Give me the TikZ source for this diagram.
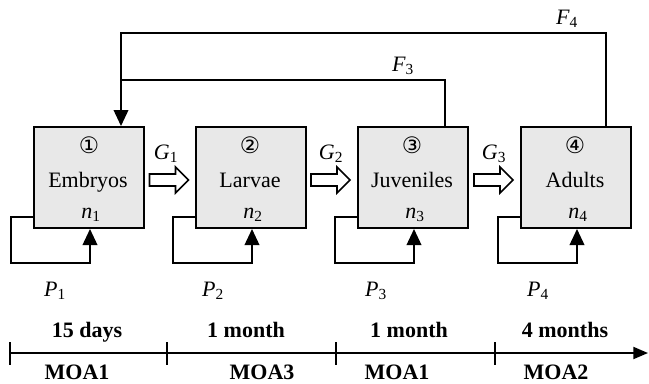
\documentclass[tikz,border=0pt]{standalone}
\usepackage{fontspec}
\setmainfont{Liberation Serif}
\newfontfamily\circfont{DejaVu Sans}
\usetikzlibrary{arrows.meta,calc}
\begin{document}
\begin{tikzpicture}[x=0.75pt,y=-0.75pt,
  font=\fontsize{16.5}{19}\selectfont,
  stagebox/.style={draw, line width=1.5pt, fill=gray!18, minimum width=82.5pt, minimum height=75.75pt, inner sep=0pt, anchor=north west},
  conn/.style={line width=1.2pt},
  tri/.style={-{Triangle[width=11pt,length=12pt]}},
  hollowarr/.style={line width=1.2pt, fill=white, line join=miter},
  circnum/.style={font=\circfont\fontsize{17}{19}\selectfont, inner sep=0pt},
  lab/.style={inner sep=0pt, anchor=base},
  boldlab/.style={inner sep=0pt, anchor=base, font=\fontsize{16.5}{19}\selectfont\bfseries},
  tick/.style={line width=1.2pt}
]
\useasboundingbox (0,0) rectangle (649,383);

% stage boxes
\node[stagebox] (b1) at (33,126) {};
\node[stagebox] (b2) at (195,126) {};
\node[stagebox] (b3) at (357,126) {};
\node[stagebox] (b4) at (520,126) {};

% box contents
\node[circnum] (c1) at (89,145) {①};
\node[circnum] (c2) at (250,145) {②};
\node[circnum] (c3) at (412,145) {③};
\node[circnum] (c4) at (575,145) {④};
\node[lab] (s1) at (88,187) {Embryos};
\node[lab] (s2) at (250,187) {Larvae};
\node[lab] (s3) at (412,187) {Juveniles};
\node[lab] (s4) at (575,187) {Adults};
\node[lab] (n1) at (91,218) {\textit{n}\textsubscript{1}};
\node[lab] (n2) at (253,218) {\textit{n}\textsubscript{2}};
\node[lab] (n3) at (415,218) {\textit{n}\textsubscript{3}};
\node[lab] (n4) at (578,218) {\textit{n}\textsubscript{4}};

% hollow growth arrows
\coordinate (a1) at (149.5,180);
\coordinate (a2) at (311,180);
\coordinate (a3) at (474,180);
\foreach \a in {a1,a2,a3}{
  \draw[hollowarr] (\a) ++(0,-6) -- ++(26,0) -- ++(0,-7) -- ++(13,13) -- ++(-13,13) -- ++(0,-7) -- ++(-26,0) -- cycle;
}
\node[lab] (g1) at (166,159) {\textit{G}\textsubscript{1}};
\node[lab] (g2) at (331,159) {\textit{G}\textsubscript{2}};
\node[lab] (g3) at (494,159) {\textit{G}\textsubscript{3}};

% fecundity feedback
\coordinate (j) at ($(b1.north west)+(88,-46)$);
\draw[conn] ($(b3.north west)+(88,0)$) |- (j);
\draw[conn,tri] ($(b4.north west)+(86,0)$) |- ($(b1.north west)+(88,-93)$) -- ($(b1.north west)+(88,0)$);
\node[lab] (f3) at (403,71) {\textit{F}\textsubscript{3}};
\node[lab] (f4) at (567,24) {\textit{F}\textsubscript{4}};

% survival self-loops
\foreach \b in {b1,b2,b3,b4}{
  \draw[conn,tri] ($(\b.south west)+(0,-12)$) -- ++(-22,0) -- ++(0,46) -| ($(\b.south west)+(57,0)$);
}
\node[lab] (p1) at (55,296) {\textit{P}\textsubscript{1}};
\node[lab] (p2) at (213,296) {\textit{P}\textsubscript{2}};
\node[lab] (p3) at (376,296) {\textit{P}\textsubscript{3}};
\node[lab] (p4) at (538,296) {\textit{P}\textsubscript{4}};

% timeline
\coordinate (t0) at (10,353);
\coordinate (t1) at (167,353);
\coordinate (t2) at (336,353);
\coordinate (t3) at (495,353);
\coordinate (tend) at (648,353);
\draw[line width=1.4pt,-{Triangle[width=9pt,length=11pt]}] (t0) -- (tend);
\foreach \t in {t0,t1,t2,t3}{
  \draw[tick] ($(\t)+(0,-11)$) -- ($(\t)+(0,12)$);
}
\node[boldlab] (d1) at (87,337) {15 days};
\node[boldlab] (d2) at (246,337) {1 month};
\node[boldlab] (d3) at (409,337) {1 month};
\node[boldlab] (d4) at (565,337) {4 months};
\node[boldlab] (m1) at (77,379) {MOA1};
\node[boldlab] (m2) at (262,379) {MOA3};
\node[boldlab] (m3) at (397,379) {MOA1};
\node[boldlab] (m4) at (556,379) {MOA2};
\end{tikzpicture}
\end{document}
